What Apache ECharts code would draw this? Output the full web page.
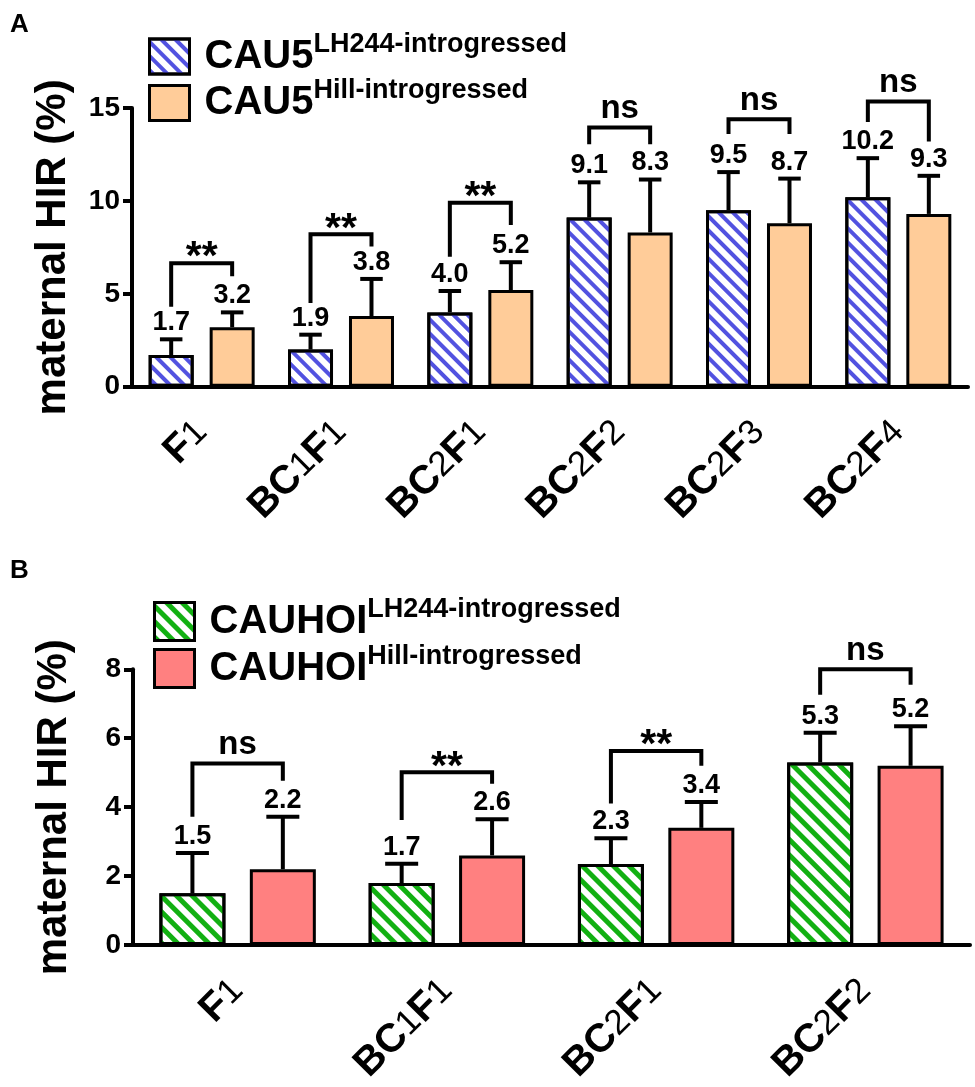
<!DOCTYPE html>
<html><head><meta charset="utf-8">
<script src="https://cdn.jsdelivr.net/npm/echarts@6/dist/echarts.min.js"></script>
<style>html,body{margin:0;padding:0;background:#fff}#c{width:975px;height:1087px}</style>
</head><body><div id="c"></div>
<script>
// ---------- Panel A data ----------
const catsA = ['F1','BC1F1','BC2F1','BC2F2','BC2F3','BC2F4'];
const lhA = [1.7, 2.0, 4.0, 9.1, 9.5, 10.2];
const hillA = [3.2, 3.8, 5.2, 8.3, 8.8, 9.3];
const lhLabelA = ['1.7','1.9','4.0','9.1','9.5','10.2'];
const hillLabelA = ['3.2','3.8','5.2','8.3','8.7','9.3'];
const lhErrA = [2.55, 2.8, 5.15, 11.0, 11.55, 12.3];
const hillErrA = [4.0, 5.8, 6.7, 11.15, 11.2, 11.35];
const sigA = ['**','**','**','ns','ns','ns'];
const brTopA = [6.65, 8.2, 9.9, 13.95, 14.4, 15.35];
const brLeftA = [4.3, 4.5, 7.0, 13.05, 13.6, 14.25];
const brRightA = [5.95, 7.55, 8.7, 13.05, 13.6, 13.2];
const yTicksA = [0, 5, 10, 15];

// ---------- Panel B data ----------
const catsB = ['F1','BC1F1','BC2F1','BC2F2'];
const lhB = [1.5, 1.8, 2.35, 5.3];
const hillB = [2.2, 2.6, 3.4, 5.2];
const lhLabelB = ['1.5','1.7','2.3','5.3'];
const hillLabelB = ['2.2','2.6','3.4','5.2'];
const lhErrB = [2.67, 2.36, 3.1, 6.16];
const hillErrB = [3.72, 3.65, 4.15, 6.35];
const sigB = ['ns','**','**','ns'];
const brTopB = [5.27, 5.01, 5.63, 8.0];
const brLeftB = [3.72, 3.63, 4.11, 7.26];
const brRightB = [4.77, 4.68, 5.2, 7.55];
const yTicksB = [0, 2, 4, 6, 8];

const names = {
  lhA: 'CAU5 LH244', hillA: 'CAU5 Hill',
  lhB: 'CAUHOI LH244', hillB: 'CAUHOI Hill'
};
const legendText = {
  'CAU5 LH244': ['CAU5', 'LH244-introgressed'],
  'CAU5 Hill': ['CAU5', 'Hill-introgressed'],
  'CAUHOI LH244': ['CAUHOI', 'LH244-introgressed'],
  'CAUHOI Hill': ['CAUHOI', 'Hill-introgressed']
};

const FONT = '"Liberation Sans", Arial, sans-serif';
const BW_A = 45, GAP_A = 0.355, BW_B = 66, GAP_B = 0.37;

function fmtCat(s){ return s.replace(/([A-Z]+)|(\d+)/g, (m,a,d)=> a ? '{b|'+a+'}' : '{d|'+d+'}'); }

function errRender(side, bw, gap, labels){
  return function(params, api){
    const i = api.value(0);
    const base = api.coord([i, api.value(1)]);
    const top = api.coord([i, api.value(2)]);
    const x = base[0] + side*bw*(1+gap)/2;
    const ch = bw*0.25;
    return {type:'group', children:[
      {type:'line', shape:{x1:x,y1:base[1],x2:x,y2:top[1]}, style:{stroke:'#000',lineWidth:4}},
      {type:'line', shape:{x1:x-ch,y1:top[1],x2:x+ch,y2:top[1]}, style:{stroke:'#000',lineWidth:4}},
      {type:'text', x:x, y:top[1]-3, style:{text:labels[params.dataIndex], fontSize:27, fontWeight:'bold', fontFamily:FONT, fill:'#000', align:'center', verticalAlign:'bottom'}}
    ]};
  };
}
function brRender(bw, gap, sig){
  return function(params, api){
    const i = api.value(0);
    const c = api.coord([i, api.value(1)]);
    const off = bw*(1+gap)/2;
    const xl = c[0]-off, xr = c[0]+off, yt = c[1];
    const yl = api.coord([i, api.value(2)])[1];
    const yr = api.coord([i, api.value(3)])[1];
    const s = sig[params.dataIndex];
    const ns = s === 'ns';
    return {type:'group', children:[
      {type:'polyline', shape:{points:[[xl,yl],[xl,yt],[xr,yt],[xr,yr]]}, style:{stroke:'#000',lineWidth:4,fill:null,lineJoin:'miter'}},
      {type:'text', x:c[0], y: ns ? yt-2 : yt-5, style:{text:s, fontSize: ns?33:41, fontWeight:'bold', fontFamily:FONT, fill:'#000', align:'center', verticalAlign: ns?'bottom':'middle'}}
    ]};
  };
}

function decal(color, dash){
  return {symbol:'rect', symbolSize:1, dashArrayX:[1,0], dashArrayY:dash, rotation:Math.PI/4, color:color};
}
const decBlue = decal('#5252E0', [3.2, 5.3]);
const decGreen = decal('#12B012', [4.5, 6]);

const legendRich = {
  a:{fontSize:40, fontWeight:'bold', fontFamily:FONT, color:'#000', lineHeight:51, padding:[0,0,0,10]},
  s:{fontSize:27, fontWeight:'bold', fontFamily:FONT, color:'#000', lineHeight:27, verticalAlign:'top'}
};
function legendFmt(n){ const t = legendText[n]; return '{a|'+t[0]+'}{s|'+t[1]+'}'; }

function xAxisCfg(gi, cats){
  return {type:'category', gridIndex:gi, data:cats,
    axisLine:{lineStyle:{color:'#000', width:4}},
    axisTick:{alignWithLabel:true, length:10, lineStyle:{color:'#000', width:4}},
    axisLabel:{rotate:45, margin:40, color:'#000', formatter:fmtCat,
      rich:{b:{fontSize:40, fontWeight:'bold', fontFamily:FONT, color:'#000'},
            d:{fontSize:35, fontWeight:'normal', fontFamily:FONT, color:'#000'}}}};
}
function yAxisCfg(gi, ticks){
  return {type:'value', gridIndex:gi, min:ticks[0], max:ticks[ticks.length-1], interval:ticks[1]-ticks[0],
    name:'maternal HIR (%)', nameLocation:'middle', nameGap:58,
    nameTextStyle:{fontSize:42, fontWeight:'bold', fontFamily:FONT, color:'#000'},
    axisLine:{show:true, lineStyle:{color:'#000', width:4}},
    axisTick:{show:true, length:9, lineStyle:{color:'#000', width:4}},
    splitLine:{show:false},
    axisLabel:{fontSize:28, fontWeight:'bold', fontFamily:FONT, color:'#000', margin:12}};
}

const option = {
  animation:false,
  backgroundColor:'#fff',
  graphic:[
    {type:'text', left:10, top:12, style:{text:'A', fontSize:26, fontWeight:'bold', fontFamily:FONT, fill:'#000'}},
    {type:'text', left:10, top:558, style:{text:'B', fontSize:26, fontWeight:'bold', fontFamily:FONT, fill:'#000'}}
  ],
  legend:[
    {orient:'vertical', left:143, top:26, itemWidth:40, itemHeight:35, itemGap:1, icon:'rect',
     itemStyle:{borderWidth:3, borderColor:'#000'}, selectedMode:false,
     data:[names.lhA, names.hillA], formatter:legendFmt, textStyle:{rich:legendRich}},
    {orient:'vertical', left:148, top:591, itemWidth:40, itemHeight:38, itemGap:1, icon:'rect',
     itemStyle:{borderWidth:3, borderColor:'#000'}, selectedMode:false,
     data:[names.lhB, names.hillB], formatter:legendFmt, textStyle:{rich:legendRich}}
  ],
  grid:[
    {left:132, right:7, top:108, height:278.7},
    {left:133, right:5, top:669.3, height:279}
  ],
  xAxis:[xAxisCfg(0, catsA), xAxisCfg(1, catsB)],
  yAxis:[yAxisCfg(0, yTicksA), yAxisCfg(1, yTicksB)],
  series:[
    {name:names.lhA, type:'bar', xAxisIndex:0, yAxisIndex:0, data:lhA, barWidth:BW_A, barGap:(GAP_A*100)+'%',
     itemStyle:{color:'#fff', borderColor:'#000', borderWidth:3, decal:decBlue}},
    {name:names.hillA, type:'bar', xAxisIndex:0, yAxisIndex:0, data:hillA, barWidth:BW_A, barGap:(GAP_A*100)+'%',
     itemStyle:{color:'#FFCC99', borderColor:'#000', borderWidth:3}},
    {name:names.lhB, type:'bar', xAxisIndex:1, yAxisIndex:1, data:lhB, barWidth:BW_B, barGap:(GAP_B*100)+'%',
     itemStyle:{color:'#fff', borderColor:'#000', borderWidth:3, decal:decGreen}},
    {name:names.hillB, type:'bar', xAxisIndex:1, yAxisIndex:1, data:hillB, barWidth:BW_B, barGap:(GAP_B*100)+'%',
     itemStyle:{color:'#FF8080', borderColor:'#000', borderWidth:3}},
    {type:'custom', xAxisIndex:0, yAxisIndex:0, clip:false, z:5, renderItem:errRender(-1, BW_A, GAP_A, lhLabelA),
     data:catsA.map((c,i)=>[i, lhA[i], lhErrA[i]])},
    {type:'custom', xAxisIndex:0, yAxisIndex:0, clip:false, z:5, renderItem:errRender(1, BW_A, GAP_A, hillLabelA),
     data:catsA.map((c,i)=>[i, hillA[i], hillErrA[i]])},
    {type:'custom', xAxisIndex:1, yAxisIndex:1, clip:false, z:5, renderItem:errRender(-1, BW_B, GAP_B, lhLabelB),
     data:catsB.map((c,i)=>[i, lhB[i], lhErrB[i]])},
    {type:'custom', xAxisIndex:1, yAxisIndex:1, clip:false, z:5, renderItem:errRender(1, BW_B, GAP_B, hillLabelB),
     data:catsB.map((c,i)=>[i, hillB[i], hillErrB[i]])},
    {type:'custom', xAxisIndex:0, yAxisIndex:0, clip:false, z:5, renderItem:brRender(BW_A, GAP_A, sigA),
     data:catsA.map((c,i)=>[i, brTopA[i], brLeftA[i], brRightA[i]])},
    {type:'custom', xAxisIndex:1, yAxisIndex:1, clip:false, z:5, renderItem:brRender(BW_B, GAP_B, sigB),
     data:catsB.map((c,i)=>[i, brTopB[i], brLeftB[i], brRightB[i]])}
  ]
};
const chart = echarts.init(document.getElementById('c'), null, {renderer:'canvas'});
chart.setOption(option);
</script></body></html>
